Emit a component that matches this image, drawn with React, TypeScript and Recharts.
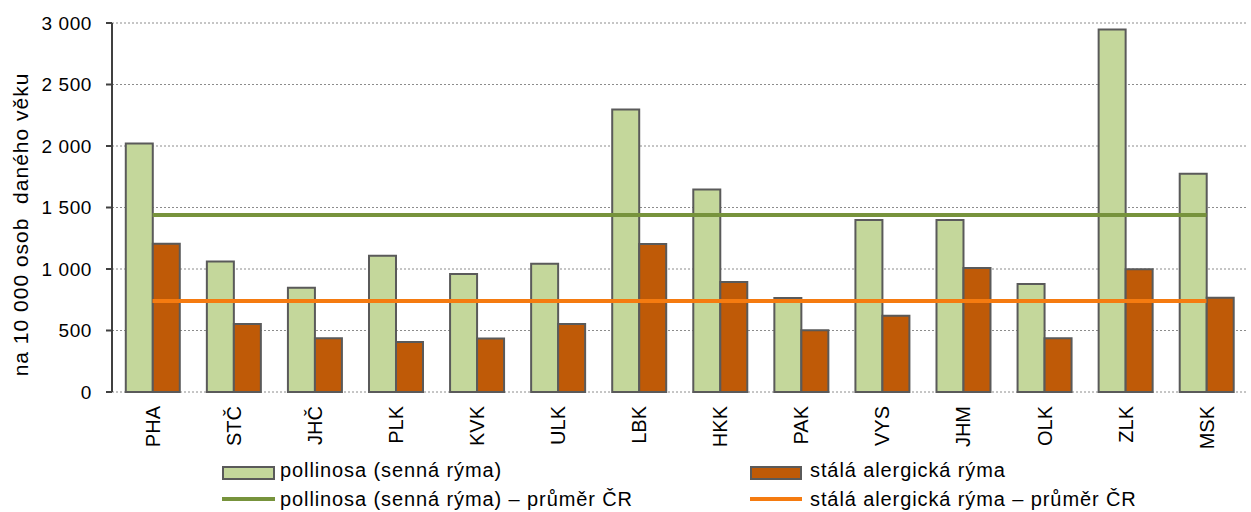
import { Bar, CartesianGrid, ComposedChart, Label, Legend, Line, XAxis, YAxis } from "recharts"

const regions = ["PHA", "STČ", "JHČ", "PLK", "KVK", "ULK", "LBK", "HKK", "PAK", "VYS", "JHM", "OLK", "ZLK", "MSK"]
const pollinosa = [2020, 1060, 848, 1108, 959, 1043, 2296, 1646, 764, 1399, 1399, 878, 2948, 1774]
const staleRyma = [1205, 552, 437, 407, 435, 552, 1204, 894, 503, 619, 1008, 437, 998, 766]
const pollinosaAvg = 1440
const staleRymaAvg = 740
const yTicks = [0, 500, 1000, 1500, 2000, 2500, 3000]

const seriesNames = {
  pollinosa: "pollinosa (senná rýma)",
  stale: "stálá alergická rýma",
  pollinosaAvg: "pollinosa (senná rýma) – průměr ČR",
  staleAvg: "stálá alergická rýma – průměr ČR",
}

const data = regions.map((region, i) => ({
  region,
  pollinosa: pollinosa[i],
  stale: staleRyma[i],
  pollinosaAvg,
  staleAvg: staleRymaAvg,
}))

// tick marks sit between the categories, like in Excel
const boundaryTicks = [...regions.map((_, i) => i), regions.length]

const FONT = "'Liberation Sans', Arial, sans-serif"
const GREEN = "#c4d79b"
const BROWN = "#bf5a07"
const GREEN_LINE = "#77933c"
const ORANGE_LINE = "#f57b10"
const AXIS = "#404040"
const OUTLINE = "#5a5a5a"

const fmt = (v: number) => (v >= 1000 ? `${Math.floor(v / 1000)}\u00a0${String(v % 1000).padStart(3, "0")}` : String(v))

function RegionTick({ x, y, payload }: any) {
  return (
    <text
      x={x}
      y={y}
      transform={`rotate(-90, ${x}, ${y})`}
      textAnchor="end"
      dy="0.36em"
      fontSize={20}
      fontFamily={FONT}
      fill="#000"
    >
      {payload.value}
    </text>
  )
}

function ChartLegend() {
  const text = {
    position: "absolute" as const,
    fontSize: 20,
    letterSpacing: 0.9,
    fontFamily: FONT,
    color: "#000",
    lineHeight: "20px",
    whiteSpace: "nowrap" as const,
  }
  return (
    <div style={{ position: "relative", width: 1251, height: 58 }}>
      <div style={{ position: "absolute", left: 222, top: 12, width: 49, height: 10, background: GREEN, border: `2px solid ${OUTLINE}` }} />
      <div style={{ ...text, left: 280, top: 6 }}>{seriesNames.pollinosa}</div>
      <div style={{ position: "absolute", left: 750, top: 12, width: 48, height: 10, background: BROWN, border: `2px solid ${OUTLINE}` }} />
      <div style={{ ...text, left: 810, top: 6 }}>{seriesNames.stale}</div>
      <div style={{ position: "absolute", left: 222, top: 43, width: 53, height: 4, background: GREEN_LINE }} />
      <div style={{ ...text, left: 280, top: 35 }}>{seriesNames.pollinosaAvg}</div>
      <div style={{ position: "absolute", left: 750, top: 43, width: 52, height: 4, background: ORANGE_LINE }} />
      <div style={{ ...text, left: 810, top: 35 }}>{seriesNames.staleAvg}</div>
    </div>
  )
}

export default function App() {
  return (
    <div style={{ position: "absolute", left: 0, top: 0, width: 1251, height: 512, background: "#fff" }}>
      <ComposedChart
        width={1251}
        height={512}
        data={data}
        margin={{ top: 23, right: 4, bottom: 0, left: 0 }}
        barCategoryGap="17%"
        barGap={0}
      >
        <CartesianGrid vertical={false} stroke="#8c8c8c" strokeDasharray="2 2" />
        <XAxis
          xAxisId="marks"
          type="number"
          domain={[0, regions.length]}
          ticks={boundaryTicks}
          tick={false}
          height={0}
          tickSize={6}
          axisLine={{ stroke: AXIS, strokeWidth: 2 }}
          tickLine={{ stroke: AXIS, strokeWidth: 2 }}
        />
        <XAxis
          dataKey="region"
          axisLine={false}
          tickLine={false}
          tickMargin={14}
          tickSize={0}
          height={62}
          interval={0}
          tick={<RegionTick />}
        />
        <YAxis
          domain={[0, 3000]}
          ticks={yTicks}
          width={112}
          tickFormatter={fmt}
          tickSize={6}
          tickMargin={14}
          axisLine={{ stroke: AXIS, strokeWidth: 2 }}
          tickLine={{ stroke: AXIS, strokeWidth: 2 }}
          tick={{ fontSize: 19, fontFamily: FONT, fill: "#000", letterSpacing: 0.6 }}
          interval={0}
        >
          <Label
            content={({ viewBox }: any) => {
              const cy = viewBox.y + viewBox.height / 2 + 17
              return (
                <text
                  x={20}
                  y={cy}
                  transform={`rotate(-90, 20, ${cy})`}
                  textAnchor="middle"
                  dy="0.36em"
                  fontSize={21}
                  letterSpacing={1}
                  fontFamily={FONT}
                  fill="#000"
                  style={{ whiteSpace: "pre" }}
                >
                  {"na 10 000 osob  daného věku"}
                </text>
              )
            }}
          />
        </YAxis>
        <Legend verticalAlign="bottom" wrapperStyle={{ left: 0, width: 1251 }} content={<ChartLegend />} />
        <Bar dataKey="pollinosa" name={seriesNames.pollinosa} fill={GREEN} stroke={OUTLINE} strokeWidth={2} isAnimationActive={false} />
        <Bar dataKey="stale" name={seriesNames.stale} fill={BROWN} stroke={OUTLINE} strokeWidth={2} isAnimationActive={false} />
        <Line dataKey="pollinosaAvg" name={seriesNames.pollinosaAvg} stroke={GREEN_LINE} strokeWidth={4} dot={false} activeDot={false} isAnimationActive={false} />
        <Line dataKey="staleAvg" name={seriesNames.staleAvg} stroke={ORANGE_LINE} strokeWidth={4} dot={false} activeDot={false} isAnimationActive={false} />
      </ComposedChart>
    </div>
  )
}
